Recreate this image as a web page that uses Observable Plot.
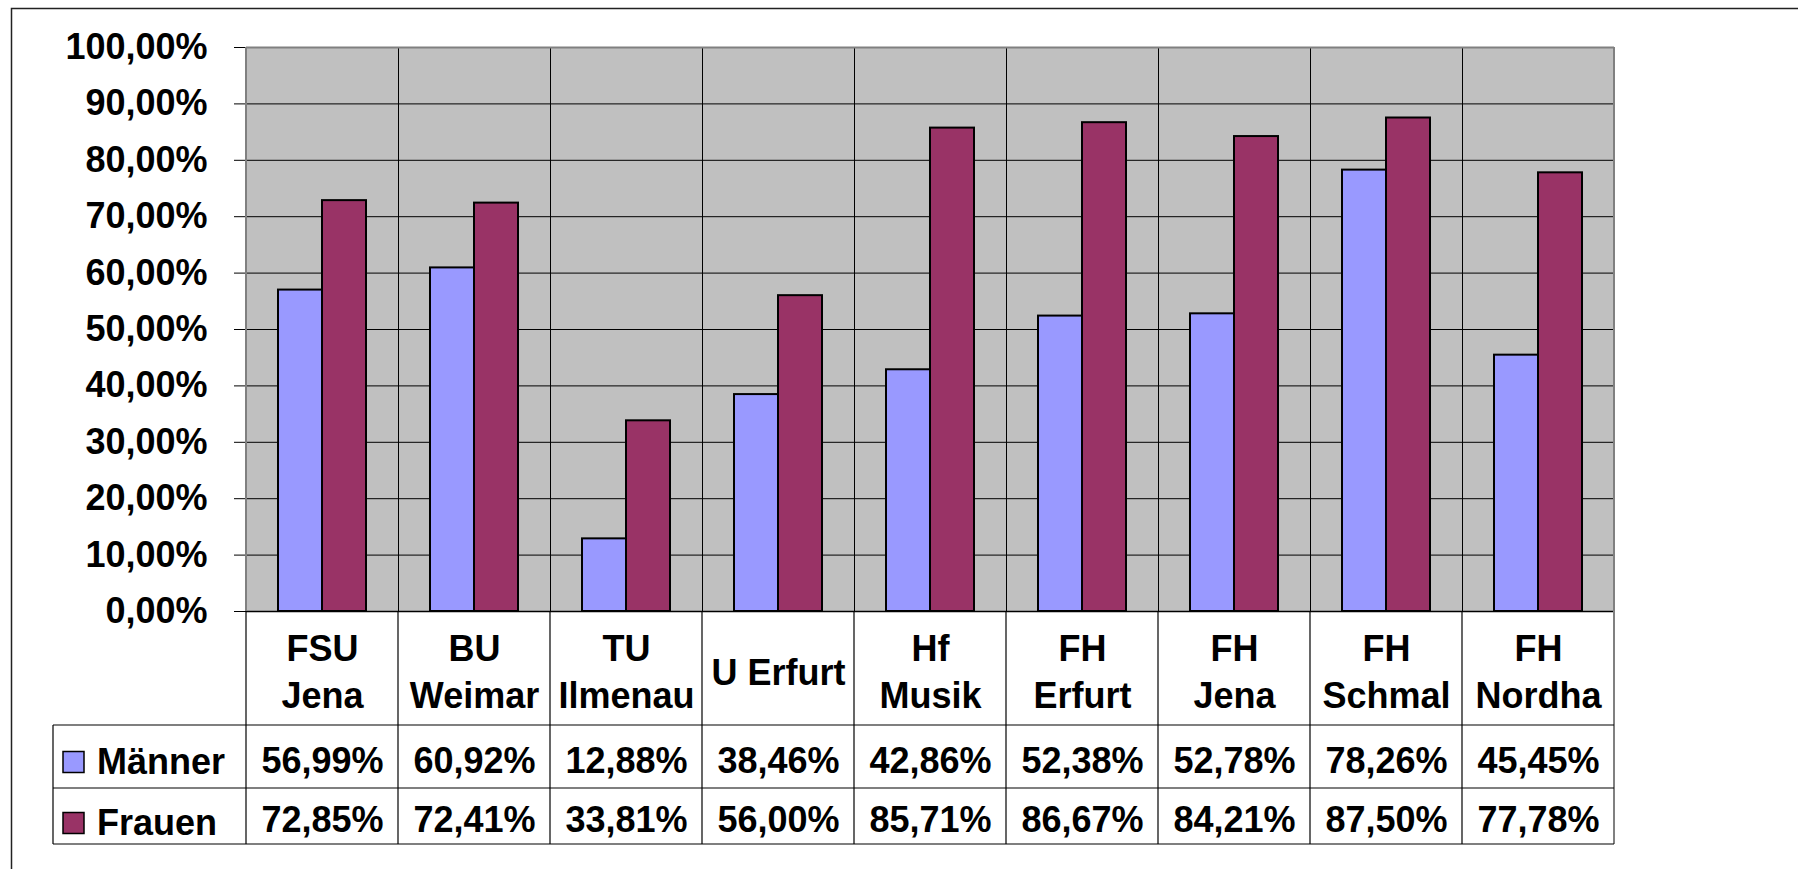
<!DOCTYPE html>
<html>
<head>
<meta charset="utf-8">
<script src="https://cdn.jsdelivr.net/npm/d3@7"></script>
<script src="https://cdn.jsdelivr.net/npm/@observablehq/plot@0.6"></script>
<style>
  html, body { margin: 0; padding: 0; background: white; }
  svg { display: block; }
</style>
</head>
<body>
<div id="chart"></div>
<script>
const categories = ["FSU\nJena", "BU\nWeimar", "TU\nIlmenau", "U Erfurt", "Hf\nMusik", "FH\nErfurt", "FH\nJena", "FH\nSchmal", "FH\nNordha"];
const series = ["Männer", "Frauen"];
const maenner = [56.99, 60.92, 12.88, 38.46, 42.86, 52.38, 52.78, 78.26, 45.45];
const frauen  = [72.85, 72.41, 33.81, 56.00, 85.71, 86.67, 84.21, 87.50, 77.78];
const yTicks = [0, 10, 20, 30, 40, 50, 60, 70, 80, 90, 100];
const colors = ["#9999ff", "#993366"];

const fmt = v => v.toFixed(2).replace(".", ",") + "%";
const rows = categories.flatMap((c, i) => [
  {cat: c, series: series[0], value: maenner[i]},
  {cat: c, series: series[1], value: frauen[i]}
]);

const FONT = "'Liberation Sans', Arial, Helvetica, sans-serif";
const FS = 36;

const plot = Plot.plot({
  width: 1798,
  height: 869,
  marginLeft: 243,
  marginRight: 182,
  marginTop: 47,
  marginBottom: 258,
  style: {fontFamily: FONT, fontSize: FS + "px", fontWeight: "bold", background: "white", color: "black", overflow: "visible"},
  fx: {domain: categories, padding: 0, axis: null},
  x: {domain: series, paddingInner: 0, paddingOuter: 0.715, axis: null},
  y: {domain: [0, 100], ticks: yTicks, tickFormat: fmt, tickSize: 12, tickPadding: 27, label: null},
  color: {domain: series, range: colors},
  marks: [
    Plot.frame({fill: "#c0c0c0"}),
    Plot.ruleY(yTicks.filter(t => t > 0 && t < 100), {stroke: "black", strokeWidth: 1}),
    Plot.barY(rows, {fx: "cat", x: "series", y: "value", fill: "series", stroke: "black", strokeWidth: 2}),
    Plot.frame({stroke: "black", strokeWidth: 1}),
    Plot.ruleY([100], {stroke: "#808080", strokeWidth: 2}),
    Plot.ruleY([0], {stroke: "black", strokeWidth: 1.5}),
    Plot.text(categories, {fx: d => d, text: d => d, frameAnchor: "bottom", lineAnchor: "middle", dy: 58, lineHeight: 1.314, fill: "black"}),
    Plot.text(rows.filter(d => d.series === series[0]), {fx: "cat", text: d => fmt(d.value), frameAnchor: "bottom", lineAnchor: "middle", dy: 150, fill: "black"}),
    Plot.text(rows.filter(d => d.series === series[1]), {fx: "cat", text: d => fmt(d.value), frameAnchor: "bottom", lineAnchor: "middle", dy: 209, fill: "black"})
  ]
});

document.getElementById("chart").appendChild(plot);

// Table grid, legend keys and outer border drawn from Plot's own scales
const svg = d3.select(plot);
const fx = plot.scale("fx");
const y = plot.scale("y");
const y0 = y.apply(0);
const xs = fx.domain.map(d => fx.apply(d));
const edges = [...xs, xs[xs.length - 1] + fx.bandwidth];
const xLeftTable = 53;
const rowTops = [y0 + 114, y0 + 177, y0 + 233];
const g = svg.append("g");

// vertical table lines
edges.forEach((x, i) => {
  g.append("line")
    .attr("x1", x).attr("x2", x)
    .attr("y1", y0).attr("y2", rowTops[2])
    .attr("stroke", i === edges.length - 1 ? "#808080" : "black")
    .attr("stroke-width", i === edges.length - 1 ? 2 : 1.2);
});
g.append("line").attr("x1", xLeftTable).attr("x2", xLeftTable)
  .attr("y1", rowTops[0]).attr("y2", rowTops[2]).attr("stroke", "black").attr("stroke-width", 1.2);
rowTops.forEach(ty => {
  g.append("line").attr("x1", xLeftTable).attr("x2", edges[edges.length - 1])
    .attr("y1", ty).attr("y2", ty).attr("stroke", "black").attr("stroke-width", 1.2);
});
// gray plot-area side borders
[edges[0], edges[edges.length - 1]].forEach(x => {
  g.append("line").attr("x1", x).attr("x2", x)
    .attr("y1", y.apply(100)).attr("y2", y0).attr("stroke", "#808080").attr("stroke-width", 2);
});

// legend keys in table
series.forEach((s, i) => {
  const cy = i === 0 ? rowTops[0] + 37 : rowTops[1] + 35;
  g.append("rect").attr("x", 63).attr("y", cy - 10.5).attr("width", 21).attr("height", 21)
    .attr("fill", colors[i]).attr("stroke", "black").attr("stroke-width", 1.5);
  g.append("text").attr("x", 97).attr("y", cy + 12)
    .attr("text-anchor", "start")
    .attr("font-family", FONT).attr("font-size", FS).attr("font-weight", "bold")
    .attr("fill", "black").text(s);
});

// outer chart border
svg.append("rect").attr("x", 11.5).attr("y", 8.5).attr("width", 2000).attr("height", 1000)
  .attr("fill", "none").attr("stroke", "#222").attr("stroke-width", 1.5);
</script>
</body>
</html>
